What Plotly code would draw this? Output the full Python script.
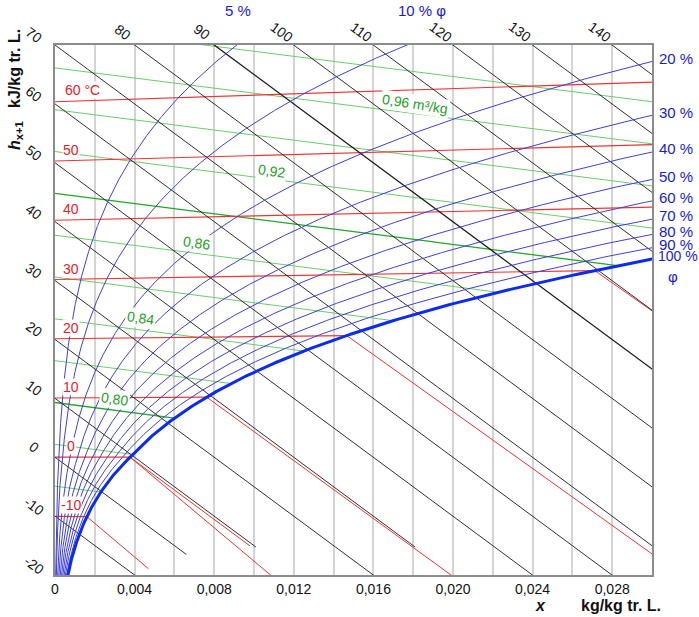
import numpy as np
import plotly.graph_objects as go

P = 101325.0   # Pa, total pressure
R0 = 2501.0    # kJ/kg, skew of the h-x diagram (h lines run down to the right)

# ---- values ----
x_ticks = [0.000, 0.004, 0.008, 0.012, 0.016, 0.020, 0.024, 0.028]
x_tick_text = ["0", "0,004", "0,008", "0,012", "0,016", "0,020", "0,024", "0,028"]
x_minor = [0.002, 0.006, 0.010, 0.014, 0.018, 0.022, 0.026, 0.030]

h_left = [70, 60, 50, 40, 30, 20, 10, 0, -10, -20]
h_top = [80, 90, 100, 110, 120, 130, 140]
h_lines = [-10, 0, 10, 20, 30, 40, 50, 60, 70, 80, 90, 100, 110, 120, 130, 140]
h_cut = {0: 0.0066, 10: 0.0101, 30: 0.0181}   # h lines that stop in the fog zone

t_lines = [-10, 0, 10, 20, 30, 40, 50, 60]
t_text = ["-10", "0", "10", "20", "30", "40", "50", "60 °C"]

fog_t = [-10, 0, 0, 10, 20, 30]
fog_phase = ["ice", "water", "ice", "water", "water", "water"]
fog_x_end = [0.0047, 0.0098, 0.05, 0.05, 0.05, 0.05]

phi = [0.05, 0.10, 0.20, 0.30, 0.40, 0.50, 0.60, 0.70, 0.80, 0.90, 1.00]
phi_text = ["5 %", "10 % φ", "20 %", "30 %", "40 %", "50 %", "60 %",
            "70 %", "80 %", "90 %", "100 %"]

vol = [0.76, 0.78, 0.80, 0.82, 0.84, 0.86, 0.88, 0.90, 0.92, 0.94, 0.96, 0.98]
vol_bold = [0.80, 0.90]
vol_text = ["0,96 m³/kg", "0,92", "0,86", "0,84", "0,80"]
vol_text_x = [0.0181, 0.0109, 0.0071, 0.0043, 0.0030]
vol_text_y = [60.0, 48.6, 36.4, 23.6, 9.85]


def p_sat(t):
    t = np.asarray(t, dtype=float)
    water = 611.2 * np.exp(17.62 * t / (243.12 + t))
    ice = 611.2 * np.exp(22.46 * t / (272.62 + t))
    return np.where(t >= 0, water, ice)


def x_of(t, f):
    ps = f * p_sat(t)
    return 0.622 * ps / (P - ps)


def h_of(t, x):
    return 1.006 * t + x * (2501.0 + 1.86 * t)


def y_of(h, x):
    return h - R0 * x


FONT = "Liberation Sans, Arial, sans-serif"
RED = "#ee3333"
GREEN = "#6ccb6c"
DKGREEN = "#22a52a"
BLUE = "#4040d6"
TXTBLUE = "#1a1ad8"

fig = go.Figure()

# specific volume lines (green)
for v in vol:
    xs = np.linspace(0, 0.031, 600)
    t = v * P / (287.05 * (1 + 1.608 * xs)) - 273.15
    ok = xs <= x_of(t, 1.0)
    xs, t = xs[ok], t[ok]
    fig.add_trace(go.Scatter(x=xs, y=y_of(h_of(t, xs), xs), mode="lines",
                             line=dict(color=DKGREEN if v in vol_bold else GREEN,
                                       width=1.3 if v in vol_bold else 1),
                             hoverinfo="skip", showlegend=False))

# isotherms, unsaturated part and fog part (red)
for t in t_lines:
    xe = min(float(x_of(t, 1.0)), 0.05)
    xx = np.array([0.0, xe])
    fig.add_trace(go.Scatter(x=xx, y=y_of(h_of(t, xx), xx), mode="lines",
                             line=dict(color=RED, width=1.2),
                             hoverinfo="skip", showlegend=False))
for t, ph, xe in zip(fog_t, fog_phase, fog_x_end):
    xs0 = float(x_of(t, 1.0))
    hs = h_of(t, xs0)
    c = 4.19 * t if ph == "water" else -333.4 + 2.05 * t
    xx = np.array([xs0, xe])
    fig.add_trace(go.Scatter(x=xx, y=y_of(hs + (xx - xs0) * c, xx), mode="lines",
                             line=dict(color=RED, width=1),
                             hoverinfo="skip", showlegend=False))

# enthalpy lines (black)
for h in h_lines:
    xx = np.array([0.0, h_cut.get(h, 0.05)])
    fig.add_trace(go.Scatter(x=xx, y=y_of(h, xx), mode="lines",
                             line=dict(color="#1a1a1a", width=1.3 if h == 90 else 0.9),
                             hoverinfo="skip", showlegend=False))

# relative humidity curves (blue)
phi_top, phi_right = {}, {}
for f in phi:
    t = np.linspace(-21, 99, 900)
    xx = x_of(t, f)
    ok = xx < 0.06
    t, xx = t[ok], xx[ok]
    yy = y_of(h_of(t, xx), xx)
    fig.add_trace(go.Scatter(x=xx, y=yy, mode="lines",
                             line=dict(color="#0b2cf0" if f == 1.0 else BLUE,
                                       width=3 if f == 1.0 else 1),
                             hoverinfo="skip", showlegend=False))
    if yy.max() > 70 and np.interp(70, yy, xx) < 0.03:
        phi_top[f] = float(np.interp(70, yy, xx))
    else:
        phi_right[f] = float(np.interp(0.03, xx, yy))

ann = []
for h in h_left:
    ann.append(dict(x=0, y=h, xref="x", yref="y", text=str(h), showarrow=False,
                    xanchor="center", yanchor="middle",
                    xshift=-21, yshift=10, textangle=36,
                    font=dict(family=FONT, size=14, color="#111")))
for h in h_top:
    ann.append(dict(x=(h - 70) / R0, y=70, xref="x", yref="y", text=str(h),
                    showarrow=False, xanchor="center", yanchor="middle",
                    xshift=-12, yshift=13, textangle=36,
                    font=dict(family=FONT, size=14, color="#111")))
for t, s in zip(t_lines, t_text):
    ann.append(dict(x=0.0008 if t != 60 else 0.00045, y=1.006 * t, xref="x", yref="y",
                    text=s, showarrow=False, yshift=11 if t != 60 else 12,
                    xanchor="center" if t != 60 else "left", yanchor="middle",
                    bgcolor="white", borderpad=0,
                    font=dict(family=FONT, size=14, color="#e8202a")))
for s, xv, yv in zip(vol_text, vol_text_x, vol_text_y):
    ann.append(dict(x=xv, y=yv, xref="x", yref="y", text=s, showarrow=False,
                    xanchor="center", yanchor="middle",
                    textangle=9 if "kg" in s else 8, bgcolor="white", borderpad=1,
                    font=dict(family=FONT, size=14, color="#1e9e1e")))
for f, s in zip(phi, phi_text):
    if f in phi_top:
        ann.append(dict(x=phi_top[f], y=1, xref="x", yref="paper", text=s,
                        showarrow=False, yshift=35, yanchor="middle",
                        xanchor="center" if f == 0.05 else "left",
                        xshift=1 if f == 0.05 else -10,
                        font=dict(family=FONT, size=15, color=TXTBLUE)))
    else:
        ann.append(dict(x=0.03, y=phi_right[f], xref="x", yref="y", text=s,
                        showarrow=False, xanchor="left", yanchor="middle",
                        xshift=4 if f == 1.0 else 5, yshift=3,
                        font=dict(family=FONT, size=14 if f == 1.0 else 15,
                                  color=TXTBLUE)))
ann.append(dict(x=0.03, y=phi_right[1.0], xref="x", yref="y", text="φ",
                showarrow=False, xanchor="center", yanchor="middle",
                xshift=21, yshift=-17,
                font=dict(family=FONT, size=15, color=TXTBLUE)))

ann.append(dict(x=0, y=0.915, xref="paper", yref="paper", textangle=-90,
                text="<b><i>h</i><sub>x+1</sub>   kJ/kg tr. L.</b>", showarrow=False,
                xanchor="center", yanchor="middle",
                xshift=-40, font=dict(family=FONT, size=16, color="#111")))
ann.append(dict(x=1, y=0, xref="paper", yref="paper", text="<b>kg/kg tr. L.</b>",
                showarrow=False, xanchor="right", yanchor="middle",
                xshift=11, yshift=-30,
                font=dict(family=FONT, size=16, color="#111")))
ann.append(dict(x=1, y=0, xref="paper", yref="paper", text="<b><i>x</i></b>",
                showarrow=False, xanchor="center", yanchor="middle",
                xshift=-112, yshift=-30,
                font=dict(family=FONT, size=16, color="#111")))

fig.update_layout(
    width=699, height=617,
    margin=dict(l=55, r=47, t=45, b=42),
    paper_bgcolor="white", plot_bgcolor="white",
    annotations=ann,
    xaxis=dict(range=[0, 0.030], tickvals=x_ticks, ticktext=x_tick_text,
               showgrid=True, gridcolor="#d4d4d4", gridwidth=1.5, zeroline=False,
               minor=dict(tickvals=x_minor, showgrid=True, gridcolor="#d4d4d4",
                          gridwidth=1.5, ticks=""),
               showline=True, linecolor="#8c8c8c", linewidth=1.5, mirror=True,
               ticks="", tickfont=dict(family=FONT, size=14, color="#111")),
    yaxis=dict(range=[-20, 70], showgrid=False, zeroline=False, showticklabels=False,
               showline=True, linecolor="#8c8c8c", linewidth=1.5, mirror=True,
               ticks=""),
)

# drop the browser's default body margin so the figure fills the window
fig.write_html("out.html", config={"displayModeBar": False},
               post_script="document.body.style.margin = '0px';")
